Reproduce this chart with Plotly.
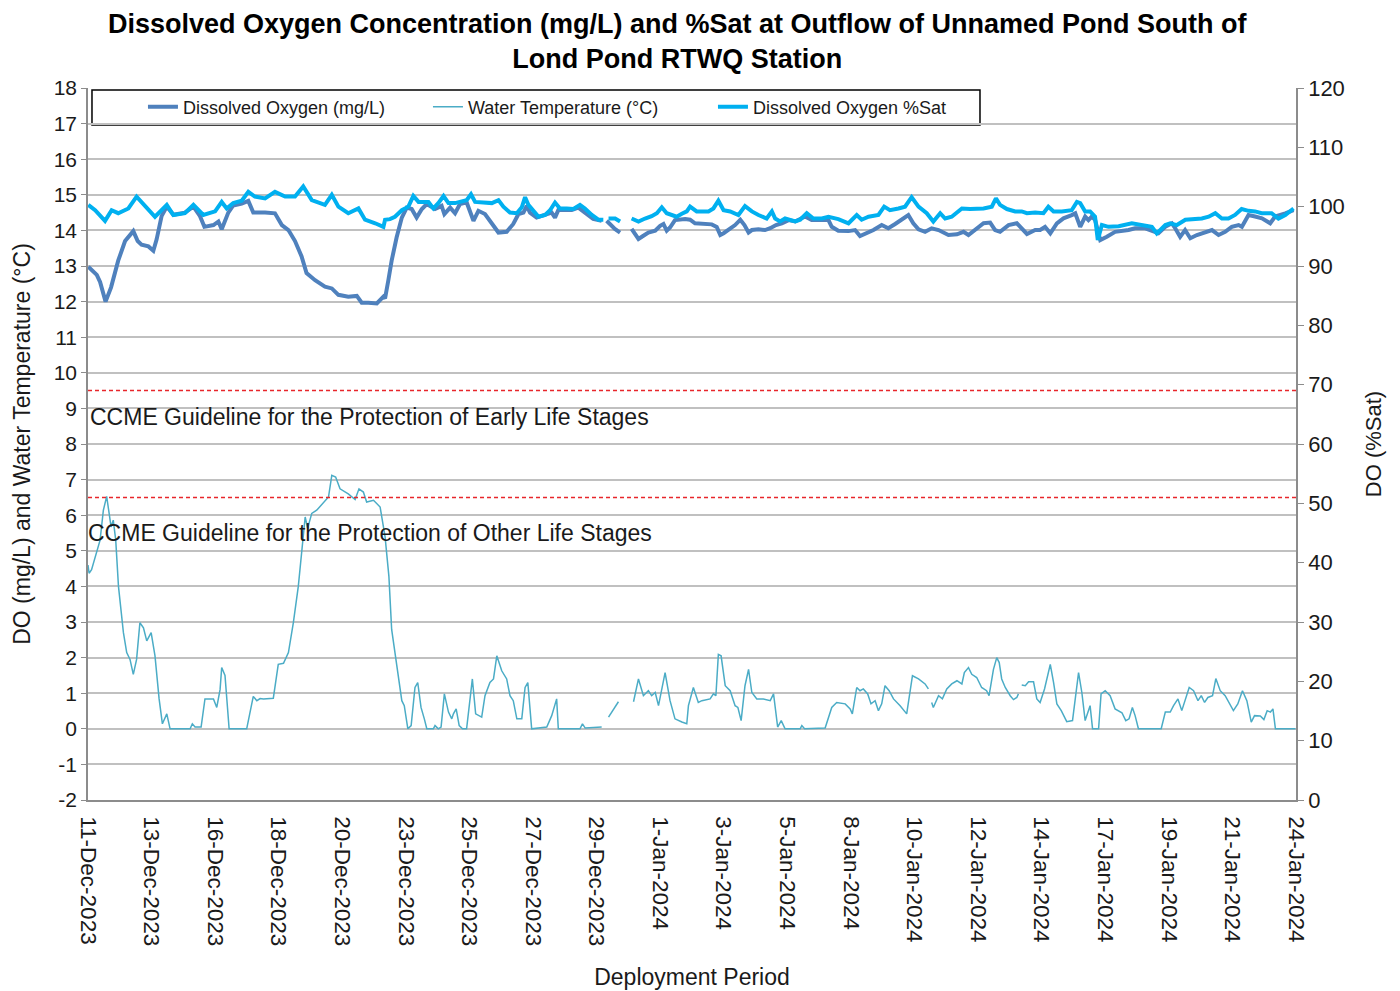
import pandas as pd
import plotly.graph_objects as go

START = pd.Timestamp("2023-12-11")
SPAN_DAYS = 44

# readings, x given as days after 11-Dec-2023 00:00 (None = logger gap)
do_day = [0.01, 0.32, 0.44, 0.64, 0.84, 1.10, 1.35, 1.65, 1.81, 1.95, 2.20, 2.38, 2.50, 2.68, 2.87,
          3.11, 3.53, 3.84, 4.08, 4.24, 4.57, 4.75, 4.87, 4.99, 5.11, 5.29, 5.60, 5.84, 6.02, 6.45,
          6.81, 7.06, 7.30, 7.54, 7.78, 7.96, 8.27, 8.63, 8.88, 9.12, 9.48, 9.79, 9.97, 10.21, 10.52,
          10.76, 10.82, 10.94, 11.06, 11.24, 11.43, 11.61, 11.79, 11.97, 12.16, 12.34, 12.64, 12.88,
          12.98, 13.19, 13.37, 13.55, 13.79, 14.04, 14.22, 14.46, 14.83, 14.95, 15.25, 15.49, 15.68,
          15.86, 15.98, 16.10, 16.34, 16.89, 17.01, 17.13, 17.62, 17.86, 18.10, 18.40, 18.71, 18.80,
          18.89, 19.07, 19.19, 19.38, 19.60, 19.80, 20.05, 20.23, 20.41, 20.66, 20.84, 20.96, 21.08,
          21.20, 21.38, 21.75, 21.93, 22.11, 22.42, 22.72, 22.90, 23.03, 23.15, 23.33, 23.57, 23.76,
          23.91, 24.06, 24.18, 24.42, 24.66, 24.85, 25.06, 25.27, 25.52, 25.76, 26.12, 26.36, 26.97,
          27.09, 27.33, 27.70, 27.94, 28.12, 28.37, 28.61, 28.91, 29.15, 29.40, 29.64, 29.88, 30.06,
          30.25, 30.49, 30.73, 30.98, 31.34, 31.65, 31.89, 32.07, 32.31, 32.62, 32.86, 33.04, 33.22,
          33.53, 33.83, 34.20, 34.50, 34.68, 34.86, 35.05, 35.29, 35.53, 35.83, 35.96, 36.14, 36.32,
          36.44, 36.56, 36.68, 36.87, 37.11, 37.41, 37.90, 38.14, 38.51, 38.99, 39.24, 39.48, 39.60,
          39.78, 39.96, 40.15, 40.39, 40.69, 40.94, 41.18, 41.42, 41.66, 41.91, 42.03, 42.27, 42.51,
          42.76, 43.06, 43.24, 43.61, 43.91]
do_mgl = [12.98, 12.75, 12.55, 12.0, 12.4, 13.15, 13.7, 13.98, 13.7, 13.6, 13.55, 13.43, 13.75, 14.4, 14.67,
          14.44, 14.5, 14.67, 14.4, 14.1, 14.15, 14.25, 14.03, 14.25, 14.5, 14.7, 14.75, 14.83, 14.5, 14.5,
          14.48, 14.15, 14.01, 13.7, 13.27, 12.8, 12.6, 12.42, 12.37, 12.19, 12.14, 12.16, 11.97, 11.97, 11.95,
          12.14, 12.09, 12.6, 13.15, 13.8, 14.36, 14.64, 14.6, 14.36, 14.6, 14.74, 14.6, 14.69,
          14.46, 14.64, 14.48, 14.74, 14.79, 14.27, 14.55, 14.46, 14.08, 13.94, 13.96, 14.18, 14.46,
          14.5, 14.69, 14.5, 14.36, 14.5, 14.36, 14.57, 14.57, 14.64, 14.5, 14.32, 14.27, None,
          14.27, 14.13, 14.04, 13.94, None, 14.04, 13.76, 13.85, 13.94, 13.99, 14.13, 14.18, 13.99,
          14.08, 14.29, 14.32, 14.3, 14.2, 14.18, 14.17, 14.1, 13.87, 13.92, 14.01, 14.15, 14.3,
          14.15, 13.94, 14.01, 14.03, 14.01, 14.06, 14.15, 14.2, 14.29, 14.25, 14.39, 14.29, 14.29,
          14.1, 13.99, 13.98, 14.01, 13.84, 13.92, 14.01, 14.15, 14.06, 14.18, 14.29, 14.43, 14.2,
          14.03, 13.96, 14.06, 14.01, 13.87, 13.89, 13.96, 13.87, 14.01, 14.2, 14.22, 14.01, 13.96,
          14.15, 14.2, 13.9, 14.01, 14.01, 14.1, 13.92, 14.2, 14.34, 14.43, 14.48, 14.1, 14.39,
          14.29, 14.39, 14.3, 13.73, 13.82, 13.96, 14.01, 14.06, 14.06, 13.92, 14.1, 14.2, 14.06,
          13.82, 14.01, 13.78, 13.87, 13.96, 14.01, 13.87, 13.96, 14.1, 14.15, 14.1, 14.43, 14.39,
          14.34, 14.2, 14.39, 14.48, 14.57]

temp_day = [0.0, 0.04, 0.13, 0.26, 0.44, 0.56, 0.68, 0.77, 0.84, 0.92, 1.01, 1.11, 1.29, 1.41, 1.53,
            1.65, 1.77, 1.89, 2.02, 2.14, 2.30, 2.44, 2.59, 2.71, 2.87, 2.99, 3.72, 3.80, 3.90, 4.12,
            4.26, 4.57, 4.69, 4.81, 4.87, 4.99, 5.14, 5.78, 6.02, 6.15, 6.27, 6.39, 6.75, 6.93, 7.12,
            7.30, 7.48, 7.66, 7.78, 7.91, 8.00, 8.15, 8.33, 8.57, 8.76, 8.88, 9.02, 9.18, 9.48, 9.73,
            9.87, 10.03, 10.15, 10.40, 10.64, 10.82, 10.96, 11.06, 11.31, 11.43, 11.52, 11.65, 11.77,
            11.91, 12.01, 12.13, 12.25, 12.34, 12.58, 12.64, 12.76, 12.86, 12.98, 13.13, 13.25, 13.31,
            13.41, 13.52, 13.64, 13.79, 14.00, 14.12, 14.34, 14.46, 14.64, 14.77, 14.89, 15.07, 15.25,
            15.37, 15.49, 15.62, 15.80, 15.92, 16.02, 16.16, 16.71, 16.89, 17.07, 17.13, 17.92, 18.01,
            18.11, 18.71, 18.80, 18.96, 19.32, 19.50, 19.87, 20.05, 20.23, 20.41, 20.53, 20.66, 20.78,
            20.90, 21.02, 21.20, 21.38, 21.63, 21.81, 21.87, 22.05, 22.23, 22.36, 22.66, 22.78, 22.87,
            22.96, 23.06, 23.21, 23.39, 23.57, 23.67, 23.79, 23.93, 24.06, 24.18, 24.36, 24.60, 24.85,
            24.97, 25.12, 25.25, 25.39, 25.94, 26.00, 26.10, 26.85, 27.09, 27.27, 27.58, 27.76, 27.84,
            28.00, 28.12, 28.24, 28.40, 28.52, 28.67, 28.79, 28.91, 29.03, 29.18, 29.34, 29.58, 29.82,
            30.03, 30.25, 30.49, 30.61, 30.67, 30.73, 30.79, 30.98, 31.12, 31.28, 31.46, 31.65, 31.83,
            31.92, 32.07, 32.19, 32.37, 32.55, 32.73, 32.82, 32.98, 33.10, 33.19, 33.28, 33.41, 33.59,
            33.71, 33.83, 33.89, 33.95, 34.01, 34.14, 34.26, 34.44, 34.56, 34.68, 34.84, 34.92, 35.05,
            35.17, 35.29, 35.45, 35.65, 35.86, 36.08, 36.20, 36.32, 36.50, 36.59, 36.81, 36.90, 37.05,
            37.23, 37.41, 37.66, 37.80, 37.92, 38.04, 38.14, 38.26, 39.09, 39.24, 39.42, 39.54, 39.70,
            39.84, 39.94, 40.11, 40.27, 40.43, 40.55, 40.67, 40.79, 40.96, 41.08, 41.24, 41.42, 41.72,
            41.88, 42.05, 42.21, 42.37, 42.49, 42.70, 42.83, 42.95, 43.07, 43.16, 43.25, 43.98]
temp_c = [4.6, 4.37, 4.47, 4.84, 5.3, 6.14, 6.53, 6.05, 5.67, 5.86, 5.3, 4.0, 2.7, 2.14, 1.95,
          1.53, 1.95, 2.98, 2.84, 2.47, 2.7, 2.05, 0.84, 0.14, 0.42, 0.0, 0.0, 0.14, 0.05, 0.05,
          0.84, 0.84, 0.6, 1.1, 1.72, 1.5, 0.0, 0.0, 0.91, 0.79, 0.85, 0.84, 0.86, 1.81, 1.84,
          2.14, 2.98, 4.0, 4.93, 5.95, 5.63, 6.05, 6.14, 6.33, 6.51, 7.12, 7.07, 6.74, 6.6, 6.44,
          6.74, 6.65, 6.37, 6.42, 6.23, 5.4, 4.28, 2.79, 1.4, 0.79, 0.65, 0.0, 0.09,
          1.16, 1.3, 0.6, 0.28, 0.0, 0.0, 0.09, 0.0, 0.05, 0.98, 0.47, 0.28, 0.42,
          0.56, 0.09, 0.0, 0.0, 1.4, 0.42, 0.33, 0.93, 1.3, 1.4, 2.05, 1.63, 1.4,
          0.93, 0.79, 0.28, 0.28, 1.16, 1.3, 0.0, 0.05, 0.37, 0.84, 0.0, 0.0, 0.14,
          0.02, 0.05, None, 0.33, 0.76, None, 0.76, 1.4, 0.93, 1.07, 0.93, 1.02, 0.65,
          1.16, 1.58, 0.79, 0.28, 0.19, 0.14, 0.65, 1.16, 0.74, 0.79, 0.84, 0.98, 0.93,
          2.09, 2.05, 1.21, 1.07, 0.65, 0.6, 0.23, 1.21, 1.67, 1.02, 0.84, 0.84, 0.79,
          0.98, 0.05, 0.23, 0.0, 0.0, 0.09, 0.0, 0.02, 0.6, 0.74, 0.7, 0.56, 0.42,
          1.16, 1.07, 1.12, 0.98, 0.7, 0.79, 0.51, 0.7, 1.21, 1.07, 0.84, 0.65, 0.42,
          1.49, 1.4, 1.26, 1.12, None, 0.74, 0.6, 0.93, 0.84, 1.12, 1.26, 1.35, 1.26,
          1.58, 1.72, 1.53, 1.44, 1.16, 1.07, 0.93, 1.67, 2.0, 1.86, 1.4, 1.16, 0.93,
          0.82, 0.88, 0.98, None, 1.23, 1.21, 1.32, 1.32, 0.84, 0.74, 1.12, 1.4, 1.81,
          1.3, 0.7, 0.51, 0.2, 0.23, 1.58, 1.02, 0.23, 0.65, 0.0, 0.0, 0.98, 1.07,
          0.93, 0.56, 0.45, 0.23, 0.28, 0.6, 0.37, 0.0, 0.0, 0.47, 0.47, 0.65, 0.84,
          0.51, 0.74, 1.16, 1.07, 0.79, 0.93, 0.74, 0.88, 0.93, 1.41, 1.07, 0.93, 0.51,
          0.7, 1.07, 0.79, 0.19, 0.37, 0.36, 0.26, 0.51, 0.47, 0.56, 0.0, 0.0]

sat_day = [0.01, 0.26, 0.62, 0.86, 1.10, 1.47, 1.77, 2.14, 2.44, 2.87, 3.11, 3.53, 3.84, 4.20, 4.63,
           4.87, 5.05, 5.29, 5.60, 5.84, 6.08, 6.45, 6.81, 7.18, 7.54, 7.84, 8.15, 8.63, 8.88, 9.12,
           9.48, 9.85, 10.09, 10.46, 10.76, 10.82, 11.00, 11.18, 11.43, 11.67, 11.85, 12.04, 12.22,
           12.40, 12.58, 12.76, 12.95, 13.13, 13.37, 13.61, 13.79, 13.95, 14.10, 14.40, 14.71, 14.95,
           15.13, 15.37, 15.62, 15.80, 15.92, 16.04, 16.16, 16.41, 16.65, 16.83, 17.01, 17.19, 17.44,
           17.68, 17.92, 18.10, 18.35, 18.59, 18.77, 18.86, 18.96, 19.20, 19.38, 19.60, 19.80, 20.05,
           20.29, 20.53, 20.72, 20.90, 21.08, 21.26, 21.44, 21.63, 21.81, 21.93, 22.17, 22.60, 22.78,
           22.96, 23.15, 23.39, 23.69, 23.93, 24.18, 24.42, 24.72, 24.91, 25.03, 25.21, 25.39, 25.76,
           25.94, 26.18, 26.42, 26.73, 26.97, 27.33, 27.70, 28.00, 28.18, 28.43, 28.79, 29.00, 29.21,
           29.52, 29.76, 30.00, 30.25, 30.55, 30.79, 31.04, 31.22, 31.46, 31.83, 32.13, 32.37, 32.62,
           32.92, 33.07, 33.22, 33.47, 33.77, 34.01, 34.20, 34.50, 34.80, 34.98, 35.17, 35.47, 35.83,
           36.02, 36.14, 36.32, 36.50, 36.68, 36.78, 36.93, 37.17, 37.54, 38.02, 38.38, 38.75, 38.93,
           39.24, 39.42, 39.66, 39.97, 40.27, 40.57, 40.82, 41.06, 41.30, 41.54, 41.78, 42.02, 42.27,
           42.51, 42.75, 43.11, 43.36, 43.61, 43.91]
sat_pct = [100.3, 99.4, 97.6, 99.4, 98.9, 99.7, 101.7, 99.7, 98.3, 100.3, 98.6, 98.9, 100.3, 98.6, 99.2,
           100.8, 99.7, 100.6, 101.0, 102.5, 101.7, 101.4, 102.5, 101.7, 101.7, 103.4, 101.1, 100.3, 102.0, 100.0,
           98.9, 99.7, 97.8, 97.2, 96.6, 97.8, 97.9, 98.3, 99.4, 100.0, 101.8, 100.8, 100.8,
           100.8, 99.7, 100.6, 101.8, 100.6, 100.6, 100.8, 101.1, 102.1, 100.8, 100.7, 100.6, 101.1,
           100.0, 99.0, 98.9, 99.9, 101.6, 100.3, 99.6, 98.3, 98.6, 99.4, 100.7, 99.7, 99.7,
           99.6, 100.3, 99.7, 98.6, 97.8, 97.8, None, 98.0, 98.0, 97.5, None, 98.0, 97.5,
           98.0, 98.4, 98.9, 99.9, 98.9, 98.6, 98.3, 98.8, 99.2, 100.0, 99.2, 99.2, 99.7,
           101.0, 99.4, 99.2, 98.6, 100.1, 99.2, 98.6, 98.0, 99.2, 98.0, 97.5, 98.0, 97.5,
           97.8, 98.9, 98.0, 98.0, 98.3, 97.9, 97.2, 98.6, 97.8, 98.3, 98.6, 100.0, 99.4,
           99.7, 100.0, 101.6, 100.0, 98.9, 97.5, 98.9, 98.0, 98.3, 99.7, 99.6, 99.7, 99.7,
           100.0, 101.4, 100.3, 99.6, 99.2, 99.2, 98.9, 99.0, 98.9, 100.0, 99.2, 99.2, 99.4,
           100.8, 100.6, 99.2, 99.2, 98.3, 94.4, 96.9, 96.6, 96.7, 97.2, 96.9, 96.6, 95.5,
           96.9, 97.2, 96.9, 97.8, 97.9, 98.0, 98.3, 98.9, 98.0, 98.0, 98.6, 99.6, 99.3,
           99.2, 98.9, 98.9, 98.0, 98.6, 99.7]

tick_labels = ["11-Dec-2023", "13-Dec-2023", "16-Dec-2023", "18-Dec-2023", "20-Dec-2023",
               "23-Dec-2023", "25-Dec-2023", "27-Dec-2023", "29-Dec-2023", "1-Jan-2024",
               "3-Jan-2024", "5-Jan-2024", "8-Jan-2024", "10-Jan-2024", "12-Jan-2024",
               "14-Jan-2024", "17-Jan-2024", "19-Jan-2024", "21-Jan-2024", "24-Jan-2024"]
left_ticks = list(range(-2, 19))
right_ticks = list(range(0, 121, 10))

guide_early = 9.5
guide_other = 6.5


def to_time(days):
    return START + pd.to_timedelta(days, unit="D")


FONT = "Liberation Sans, Arial, sans-serif"
GRID = "#c0c0c0"
AXIS = "#8c8c8c"

fig = go.Figure()
fig.add_trace(go.Scatter(x=to_time(do_day), y=do_mgl, name="Dissolved Oxygen (mg/L)",
                         mode="lines", line=dict(color="#4f81bd", width=4)))
fig.add_trace(go.Scatter(x=to_time(temp_day), y=temp_c, name="Water Temperature (°C)",
                         mode="lines", line=dict(color="#4bacc6", width=1.5)))
fig.add_trace(go.Scatter(x=to_time(sat_day), y=sat_pct, name="Dissolved Oxygen %Sat",
                         mode="lines", line=dict(color="#00b0f0", width=4), yaxis="y2"))

# CCME guideline lines
for g in (guide_early, guide_other):
    fig.add_shape(type="line", xref="paper", x0=0, x1=1, yref="y", y0=g, y1=g,
                  line=dict(color="#e8262b", width=1.5, dash="4px,3px"))

fig.add_annotation(text="CCME Guideline for the Protection of Early Life Stages",
                   xref="paper", x=0.0, xanchor="left", yref="y", y=8.76, yanchor="middle",
                   showarrow=False, font=dict(size=23, color="#1a1a1a"))
fig.add_annotation(text="CCME Guideline for the Protection of Other Life Stages",
                   xref="paper", x=-0.0015, xanchor="left", yref="y", y=5.5, yanchor="middle",
                   showarrow=False, font=dict(size=23, color="#1a1a1a"))

# legend frame
fig.add_shape(type="rect", xref="paper", yref="paper", x0=0.0033, x1=0.7384, y0=0.948, y1=0.9972,
              line=dict(color="black", width=1.5), fillcolor="white", layer="below")

tickvals = [START + pd.Timedelta(days=k * SPAN_DAYS / (len(tick_labels) - 1)) for k in range(len(tick_labels))]

# page body adds an 8px offset, so margins are trimmed by 8 on top/left
fig.update_layout(
    width=1400, height=991,
    margin=dict(l=80, r=112, t=80, b=199),
    paper_bgcolor="white", plot_bgcolor="white",
    font=dict(family=FONT, color="#1a1a1a"),
    title=dict(text="<b>Dissolved Oxygen Concentration (mg/L) and %Sat at Outflow of Unnamed Pond South of<br>"
                    "Lond Pond RTWQ Station</b>",
               x=0.478, xanchor="center", yref="container", y=0.975, yanchor="top",
               font=dict(size=27, color="black")),
    showlegend=True,
    legend=dict(orientation="h", x=0.0455, xanchor="left", y=0.9733, yanchor="middle",
                bgcolor="rgba(0,0,0,0)", borderwidth=0, font=dict(size=18),
                entrywidth=240, entrywidthmode="pixels"),
    xaxis=dict(type="date", range=[START, START + pd.Timedelta(days=SPAN_DAYS)],
               tickvals=tickvals, ticktext=tick_labels, tickangle=90,
               tickfont=dict(size=22.5), showgrid=False, zeroline=False,
               showline=True, linecolor=AXIS, linewidth=1.5,
               ticks="outside", ticklen=10, tickcolor="rgba(0,0,0,0)",
               title=dict(text="Deployment Period", font=dict(size=23), standoff=24)),
    yaxis=dict(range=[-2, 18], tickvals=left_ticks, ticktext=[str(v) for v in left_ticks],
               tickfont=dict(size=21), showgrid=True,
               gridcolor=GRID, gridwidth=1.5, zeroline=False, showline=True,
               linecolor=AXIS, linewidth=1.5, ticks="outside", ticklen=5, tickcolor=AXIS,
               title=dict(text="DO (mg/L) and Water Temperature (°C)", font=dict(size=23), standoff=17)),
    yaxis2=dict(range=[0, 120], tickvals=right_ticks, overlaying="y", side="right", tickfont=dict(size=22),
                showgrid=False, zeroline=False, showline=True, linecolor=AXIS, linewidth=1.5,
                ticks="outside", ticklen=6, tickcolor=AXIS,
                title=dict(text="DO (%Sat)", font=dict(size=22), standoff=22)),
)

fig.write_html("out.html")
